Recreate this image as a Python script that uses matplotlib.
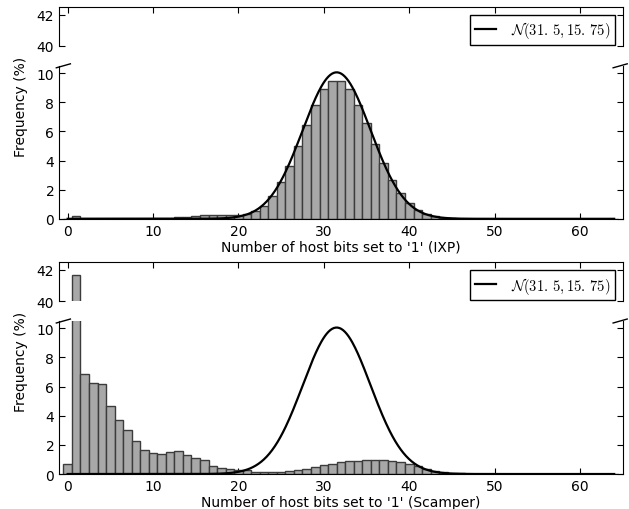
import numpy as np
import matplotlib
matplotlib.use("Agg")
import matplotlib.pyplot as plt

plt.rcParams["font.family"] = "DejaVu Sans"
plt.rcParams["mathtext.fontset"] = "cm"
plt.rcParams["xtick.direction"] = "in"
plt.rcParams["ytick.direction"] = "in"

BITS = list(range(65))

IXP_FREQ = [
    0.02, 0.20, 0.05, 0.04, 0.04, 0.03, 0.03, 0.03, 0.03, 0.03,
    0.03, 0.04, 0.07, 0.10, 0.15, 0.20, 0.25, 0.28, 0.28, 0.26,
    0.28, 0.32, 0.57, 0.91, 1.55, 2.50, 3.65, 5.00, 6.46, 7.80,
    8.90, 9.47, 9.47, 8.90, 7.80, 6.58, 5.14, 3.84, 2.63, 1.76,
    1.07, 0.62, 0.34, 0.18, 0.08, 0.04, 0.02, 0.01, 0.0, 0.0,
    0.0, 0.0, 0.0, 0.0, 0.0, 0.0, 0.0, 0.0, 0.0, 0.0,
    0.0, 0.0, 0.0, 0.0, 0.0,
]

SCAMPER_FREQ = [
    0.66, 41.7, 6.83, 6.28, 6.21, 4.70, 3.70, 2.99, 2.24, 1.67,
    1.42, 1.37, 1.48, 1.55, 1.30, 1.12, 0.96, 0.53, 0.41, 0.34,
    0.30, 0.27, 0.15, 0.11, 0.12, 0.16, 0.21, 0.28, 0.37, 0.50,
    0.62, 0.72, 0.80, 0.87, 0.91, 0.93, 0.98, 0.98, 0.91, 0.80,
    0.71, 0.53, 0.34, 0.20, 0.11, 0.07, 0.04, 0.02, 0.01, 0.0,
    0.0, 0.0, 0.0, 0.0, 0.0, 0.0, 0.0, 0.0, 0.0, 0.0,
    0.0, 0.0, 0.0, 0.0, 0.0,
]

MU = 31.5
VAR = 15.75
LEGEND_LABEL = r"$\mathcal{N}(31.\,5, 15.\,75)$"

XLABELS = [
    "Number of host bits set to '1' (IXP)",
    "Number of host bits set to '1' (Scamper)",
]

BAR_FACE = "#a8a8a8"
BAR_EDGE = "#3c3c3c"


def draw_panel(fig, bottom, freq, xlabel):
    left, width = 0.094, 0.896
    ax_lo = fig.add_axes([left, bottom, width, 0.300])
    ax_hi = fig.add_axes([left, bottom + 0.339, width, 0.0765], sharex=ax_lo)

    xs = np.linspace(0, 64, 600)
    curve = 100 * np.exp(-(xs - MU) ** 2 / (2 * VAR)) / np.sqrt(2 * np.pi * VAR)

    for ax in (ax_lo, ax_hi):
        ax.bar(BITS, freq, width=1.0, color=BAR_FACE, edgecolor=BAR_EDGE,
               linewidth=1.0, zorder=2)
        ax.plot(xs, curve, color="black", linewidth=1.6, label=LEGEND_LABEL,
                zorder=3)
        ax.set_xlim(-1, 65)
        ax.tick_params(labelsize=10, length=4, right=True)

    ax_lo.set_ylim(0, 10.5)
    ax_lo.set_yticks([0, 2, 4, 6, 8, 10])
    ax_hi.set_ylim(40, 42.5)
    ax_hi.set_yticks([40, 42])

    ax_lo.spines["top"].set_visible(False)
    ax_hi.spines["bottom"].set_visible(False)
    ax_lo.tick_params(top=False, bottom=True)
    ax_hi.tick_params(top=True, bottom=False, labelbottom=False)
    ax_lo.set_xticks([0, 10, 20, 30, 40, 50, 60])
    ax_lo.set_xlabel(xlabel, fontsize=10, labelpad=1.5)

    # break marks
    kw = dict(transform=ax_lo.transAxes, color="black", linewidth=1.0,
              clip_on=False)
    ax_lo.plot([-0.005, 0.02], [0.987, 1.013], **kw)
    ax_lo.plot([0.983, 1.008], [0.987, 1.013], **kw)

    ax_hi.legend(loc="upper right", fontsize=10.5, fancybox=False,
                 edgecolor="black", framealpha=1, handlelength=1.5,
                 borderaxespad=0.55, borderpad=0.3, handletextpad=1.0)
    ax_hi.get_legend().get_frame().set_linewidth(1.0)

    fig.text(0.034, bottom + 0.222, "Frequency (%)", rotation=90,
             ha="center", va="center", fontsize=10)


fig = plt.figure(figsize=(6.29, 5.10), dpi=100)
draw_panel(fig, 0.569, IXP_FREQ, XLABELS[0])
draw_panel(fig, 0.0686, SCAMPER_FREQ, XLABELS[1])
fig.savefig("out.png", dpi=100)
